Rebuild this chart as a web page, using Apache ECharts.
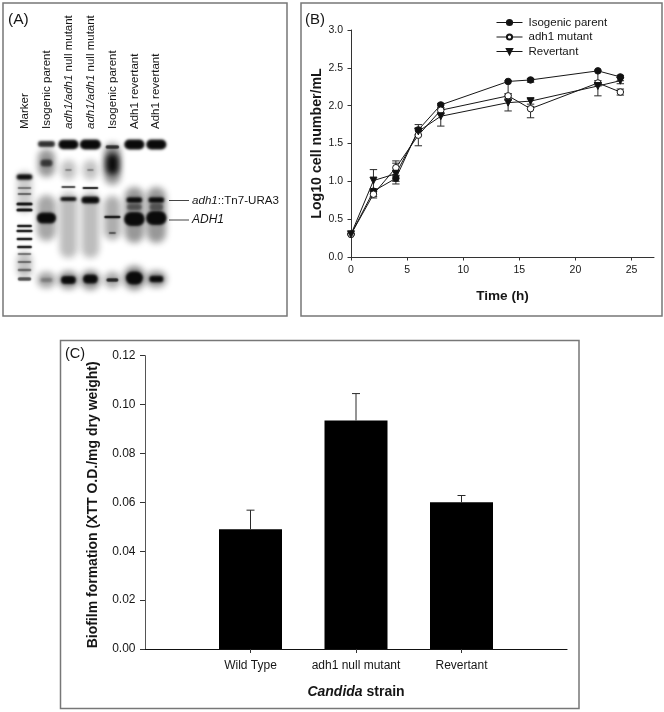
<!DOCTYPE html>
<html><head><meta charset="utf-8">
<style>html,body{margin:0;padding:0;background:#fff}#c{width:664px;height:712px}</style>
<script src="https://cdn.jsdelivr.net/npm/echarts@6/dist/echarts.min.js"></script>
</head><body><div id="c"></div>
<script>
const FONT = '"Liberation Sans", Arial, sans-serif';
// Panel A: gel lanes
const laneLabels = ['Marker','Isogenic parent','{i|adh1/adh1} null mutant','{i|adh1/adh1} null mutant','Isogenic parent','Adh1 revertant','Adh1 revertant'];
// [lane, migration, width (lanes), height, density]
const gelSmears = [
 [1,88,0.85,46,0.36],[2,95,0.8,66,0.27],[3,95,0.8,66,0.27],[4,88,0.75,44,0.33],[5,85,0.88,56,0.42],[6,85,0.88,56,0.42],
 [1,33,0.78,28,0.42],[2,40,0.7,20,0.24],[3,40,0.7,20,0.24],[4,34,0.74,42,0.42],
 [0,62,0.7,42,0.2],[0,135,0.7,26,0.24],
 [1,150,0.85,16,0.36],[2,150,0.92,18,0.46],[3,150,0.92,20,0.46],[4,150,0.75,16,0.36],[5,148,0.98,24,0.5],[6,149,0.92,16,0.46]
];
const gelBands = [
 [0,47,0.72,5.5,1],[0,58,0.62,1.8,0.5],[0,64,0.62,1.8,0.6],[0,74,0.74,3,1],[0,80,0.74,3,1],[0,96,0.68,2.4,1],[0,101,0.74,2.6,1],[0,109,0.72,2.4,1],[0,117,0.68,2.4,1],[0,124,0.62,1.8,0.55],[0,132,0.62,1.8,0.55],[0,140,0.62,2.4,0.55],[0,149,0.62,3.5,0.7],
 [1,14,0.78,6,0.85],[1,33,0.55,7,0.7],[1,88,0.88,11,1],[1,150,0.55,4,0.3],
 [2,14.5,0.92,9.5,1],[2,40,0.3,2,0.35],[2,57,0.64,2,0.8],[2,69,0.74,4,1],[2,150,0.68,8,1],
 [3,14.5,0.96,10,1],[3,40,0.3,2,0.35],[3,58,0.72,2,1],[3,70,0.82,7,1],[3,149,0.68,9,1],
 [4,17,0.62,3.5,0.8],[4,34,0.6,22,1],[4,87,0.74,2.6,1],[4,103,0.32,2.2,0.6],[4,150,0.55,3.5,0.85],
 [5,14.5,0.92,10,1],[5,70,0.72,5.5,1],[5,77,0.68,6,0.5],[5,89,0.94,14,1],[5,148,0.78,13,1],
 [6,14.5,0.92,10,1],[6,70,0.72,5.5,1],[6,77,0.62,7,0.5],[6,88,0.94,14,1],[6,149,0.64,6.5,1]
];
// Panel B
const timeH = [0,2,4,6,8,14,16,22,24];
const parentVals = [0.30,0.87,1.04,1.68,2.01,2.32,2.34,2.46,2.38];
const mutantVals = [0.30,0.83,1.18,1.61,1.94,2.13,1.96,2.30,2.18];
const revertVals = [0.30,1.01,1.10,1.66,1.86,2.04,2.06,2.26,2.33];
const parentLow  = [0.30,0.80,0.965,1.62,1.97,2.14,2.31,2.30,2.33];
const parentHigh = [0.30,0.90,1.07,1.75,2.03,2.33,2.36,2.47,2.40];
const mutantLow  = [0.30,0.78,1.08,1.47,1.90,2.10,1.84,2.26,2.14];
const mutantHigh = [0.30,0.87,1.27,1.70,1.97,2.16,1.99,2.33,2.22];
const revertLow  = [0.30,0.90,1.00,1.60,1.73,1.93,2.02,2.13,2.29];
const revertHigh = [0.30,1.155,1.24,1.70,1.89,2.07,2.09,2.29,2.37];
const xTicksB = [0,5,10,15,20,25];
// Panel C
const strains = ['','Wild Type','adh1 null mutant','Revertant',''];
const biofilm = [null,0.049,0.0935,0.060,null];
const biofilmTop = [null,0.0568,0.1045,0.0628,null];

const ink = '#161616';
const OFF = 2000;
function gelItem(p, api){
  const c = api.coord([api.value(0), api.value(1)]);
  const u = api.size([1,1]);
  const w = api.value(2)*u[0], h = api.value(3)*u[1], d = api.value(4);
  const blur = h>=16 ? 6 : (h>=4 ? 2.6 : 1.4);
  // only the blurred shadow of the shape lands on the page, which gives soft film-like edges
  return {type:'rect', shape:{x:c[0]-w/2-OFF,y:c[1]-h/2,width:w,height:h,r:Math.min(w,h)/2},
    style:{fill:'#000', shadowBlur:blur, shadowOffsetX:OFF, shadowColor:'rgba(10,10,10,'+d+')'}};
}
function errItem(p, api){
  const x = api.value(0), a = api.coord([x,api.value(1)]), b = api.coord([x,api.value(2)]);
  const cap = 3.7, st = {stroke:'#2a2a2a', lineWidth:1};
  return {type:'group', children:[
    {type:'line', shape:{x1:a[0],y1:a[1],x2:b[0],y2:b[1]}, style:st},
    {type:'line', shape:{x1:a[0]-cap,y1:a[1],x2:a[0]+cap,y2:a[1]}, style:st},
    {type:'line', shape:{x1:b[0]-cap,y1:b[1],x2:b[0]+cap,y2:b[1]}, style:st}
  ]};
}
const zip3 = (x,l,h) => x.map((v,i)=>[v,l[i],h[i]]);
const lineSeries = (name, vals, symbol, fill, rot) => ({
  name, type:'line', xAxisIndex:1, yAxisIndex:1, data:timeH.map((t,i)=>[t,vals[i]]),
  symbol, symbolSize:symbol==='circle'?6.5:7, symbolRotate:rot||0, showSymbol:true, z:3,
  lineStyle:{color:ink,width:1}, itemStyle:{color:fill,borderColor:ink,borderWidth:1}, animation:false
});
const frame = (x,y,w,h) => ({type:'rect', shape:{x,y,width:w,height:h}, style:{fill:'none',stroke:'#777',lineWidth:1.5}, silent:true});
const txt = (x,y,text,size,extra) => ({type:'text', x, y, style:Object.assign({text,fontSize:size,fontFamily:FONT,fill:ink,textVerticalAlign:'middle'},extra||{}), silent:true, z:10});
const leader = (x1,x2,y) => ({type:'line', shape:{x1,y1:y,x2,y2:y}, style:{stroke:'#444',lineWidth:1}, silent:true});

const chart = echarts.init(document.getElementById('c'), null, {renderer:'canvas'});
chart.setOption({
  animation:false,
  backgroundColor:'#fff',
  textStyle:{fontFamily:FONT,color:ink},
  graphic:[
    frame(3,3,284,313), frame(301,3,361,313), frame(60.5,340.5,518.5,368),
    txt(8,20,'(A)',15.5), txt(305,20,'(B)',15), txt(65,354,'(C)',14.5),
    leader(169,189,200.5), leader(169,189,220),
    txt(192,200.5,'{i|adh1}::Tn7-URA3',11.6,{rich:{i:{fontStyle:'italic',fontSize:11.6,fontFamily:FONT,fill:ink}}}),
    txt(192,220,'ADH1',12,{fontStyle:'italic'})
  ],
  grid:[
    {left:13.5,top:130,width:153.8,height:170},
    {left:351,top:30,width:303,height:227},
    {left:145,top:355.7,width:422,height:293.3}
  ],
  legend:{
    left:496, top:16.5, orient:'vertical', itemWidth:26, itemHeight:6.5, itemGap:2.5, padding:0,
    data:['Isogenic parent','adh1 mutant','Revertant'],
    lineStyle:{width:1},
    textStyle:{fontSize:11.5,fontFamily:FONT,color:ink,padding:[0,0,0,1]}
  },
  xAxis:[
    {gridIndex:0,type:'category',position:'top',data:laneLabels,
     axisLine:{show:false},axisTick:{show:false},
     axisLabel:{interval:0,rotate:90,margin:1,fontSize:11.5,fontFamily:FONT,color:ink,
       formatter:v=>v, rich:{i:{fontStyle:'italic',fontSize:11.5,fontFamily:FONT,color:ink}}}},
    {gridIndex:1,type:'value',min:0,max:27,
     axisLine:{lineStyle:{color:'#333',width:1}},
     axisTick:{length:3.5,lineStyle:{color:'#333'},customValues:xTicksB},
     axisLabel:{fontSize:10.5,color:ink,margin:8,customValues:xTicksB},
     splitLine:{show:false},
     name:'Time (h)',nameLocation:'middle',nameGap:32,
     nameTextStyle:{fontSize:13.6,fontWeight:'bold',color:ink,fontFamily:FONT}},
    {gridIndex:2,type:'category',boundaryGap:false,data:strains,
     axisLine:{lineStyle:{color:'#111',width:1.2}},
     axisTick:{length:4,interval:i=>i>0&&i<4,lineStyle:{color:'#333'}},
     axisLabel:{interval:0,fontSize:12,color:ink,margin:11},
     name:'{i|Candida} strain',nameLocation:'middle',nameGap:36,
     nameTextStyle:{fontSize:14,fontWeight:'bold',color:ink,fontFamily:FONT,
       rich:{i:{fontStyle:'italic',fontWeight:'bold',fontSize:14,fontFamily:FONT,color:ink}}}}
  ],
  yAxis:[
    {gridIndex:0,type:'value',min:0,max:170,inverse:true,show:false},
    {gridIndex:1,type:'value',min:0,max:3,interval:0.5,
     axisLine:{show:true,lineStyle:{color:'#333',width:1}},
     axisTick:{show:true,length:3.5,lineStyle:{color:'#333'}},
     axisLabel:{fontSize:10.5,color:ink,margin:8,formatter:v=>v.toFixed(1)},
     splitLine:{show:false},
     name:'Log10 cell number/mL',nameLocation:'middle',nameGap:27,
     nameTextStyle:{fontSize:14.2,fontWeight:'bold',color:ink,fontFamily:FONT}},
    {gridIndex:2,type:'value',min:0,max:0.12,interval:0.02,
     axisLine:{show:true,lineStyle:{color:'#555',width:1}},
     axisTick:{show:true,length:5,lineStyle:{color:'#333'}},
     axisLabel:{fontSize:12,color:ink,margin:9.5,formatter:v=>v.toFixed(2)},
     splitLine:{show:false},
     name:'Biofilm formation (XTT O.D./mg dry weight)',nameLocation:'middle',nameGap:45,
     nameTextStyle:{fontSize:14,fontWeight:'bold',color:ink,fontFamily:FONT,padding:[0,5,0,0]}}
  ],
  series:[
    {type:'custom',xAxisIndex:0,yAxisIndex:0,data:gelSmears,renderItem:gelItem,silent:true,z:1,clip:false},
    {type:'custom',xAxisIndex:0,yAxisIndex:0,data:gelBands,renderItem:gelItem,silent:true,z:2,clip:false},
    {type:'custom',xAxisIndex:1,yAxisIndex:1,data:zip3(timeH,parentLow,parentHigh),renderItem:errItem,silent:true,z:1},
    {type:'custom',xAxisIndex:1,yAxisIndex:1,data:zip3(timeH,mutantLow,mutantHigh),renderItem:errItem,silent:true,z:1},
    {type:'custom',xAxisIndex:1,yAxisIndex:1,data:zip3(timeH,revertLow,revertHigh),renderItem:errItem,silent:true,z:1},
    lineSeries('Isogenic parent',parentVals,'circle','#111'),
    lineSeries('adh1 mutant',mutantVals,'circle','#fff'),
    lineSeries('Revertant',revertVals,'triangle','#111',180),
    {type:'bar',xAxisIndex:2,yAxisIndex:2,data:biofilm,barWidth:63,itemStyle:{color:'#000'},z:2},
    {type:'custom',xAxisIndex:2,yAxisIndex:2,
     data:strains.map((s,i)=>biofilm[i]==null?null:[i,biofilm[i],biofilmTop[i]]).filter(Boolean),
     renderItem:(p,api)=>{
       const a=api.coord([api.value(0),api.value(1)]), b=api.coord([api.value(0),api.value(2)]);
       const st={stroke:'#2a2a2a',lineWidth:1};
       return {type:'group',children:[
         {type:'line',shape:{x1:a[0],y1:a[1],x2:b[0],y2:b[1]},style:st},
         {type:'line',shape:{x1:b[0]-4,y1:b[1],x2:b[0]+4,y2:b[1]},style:st}]};
     },silent:true,z:3}
  ]
});
</script></body></html>
